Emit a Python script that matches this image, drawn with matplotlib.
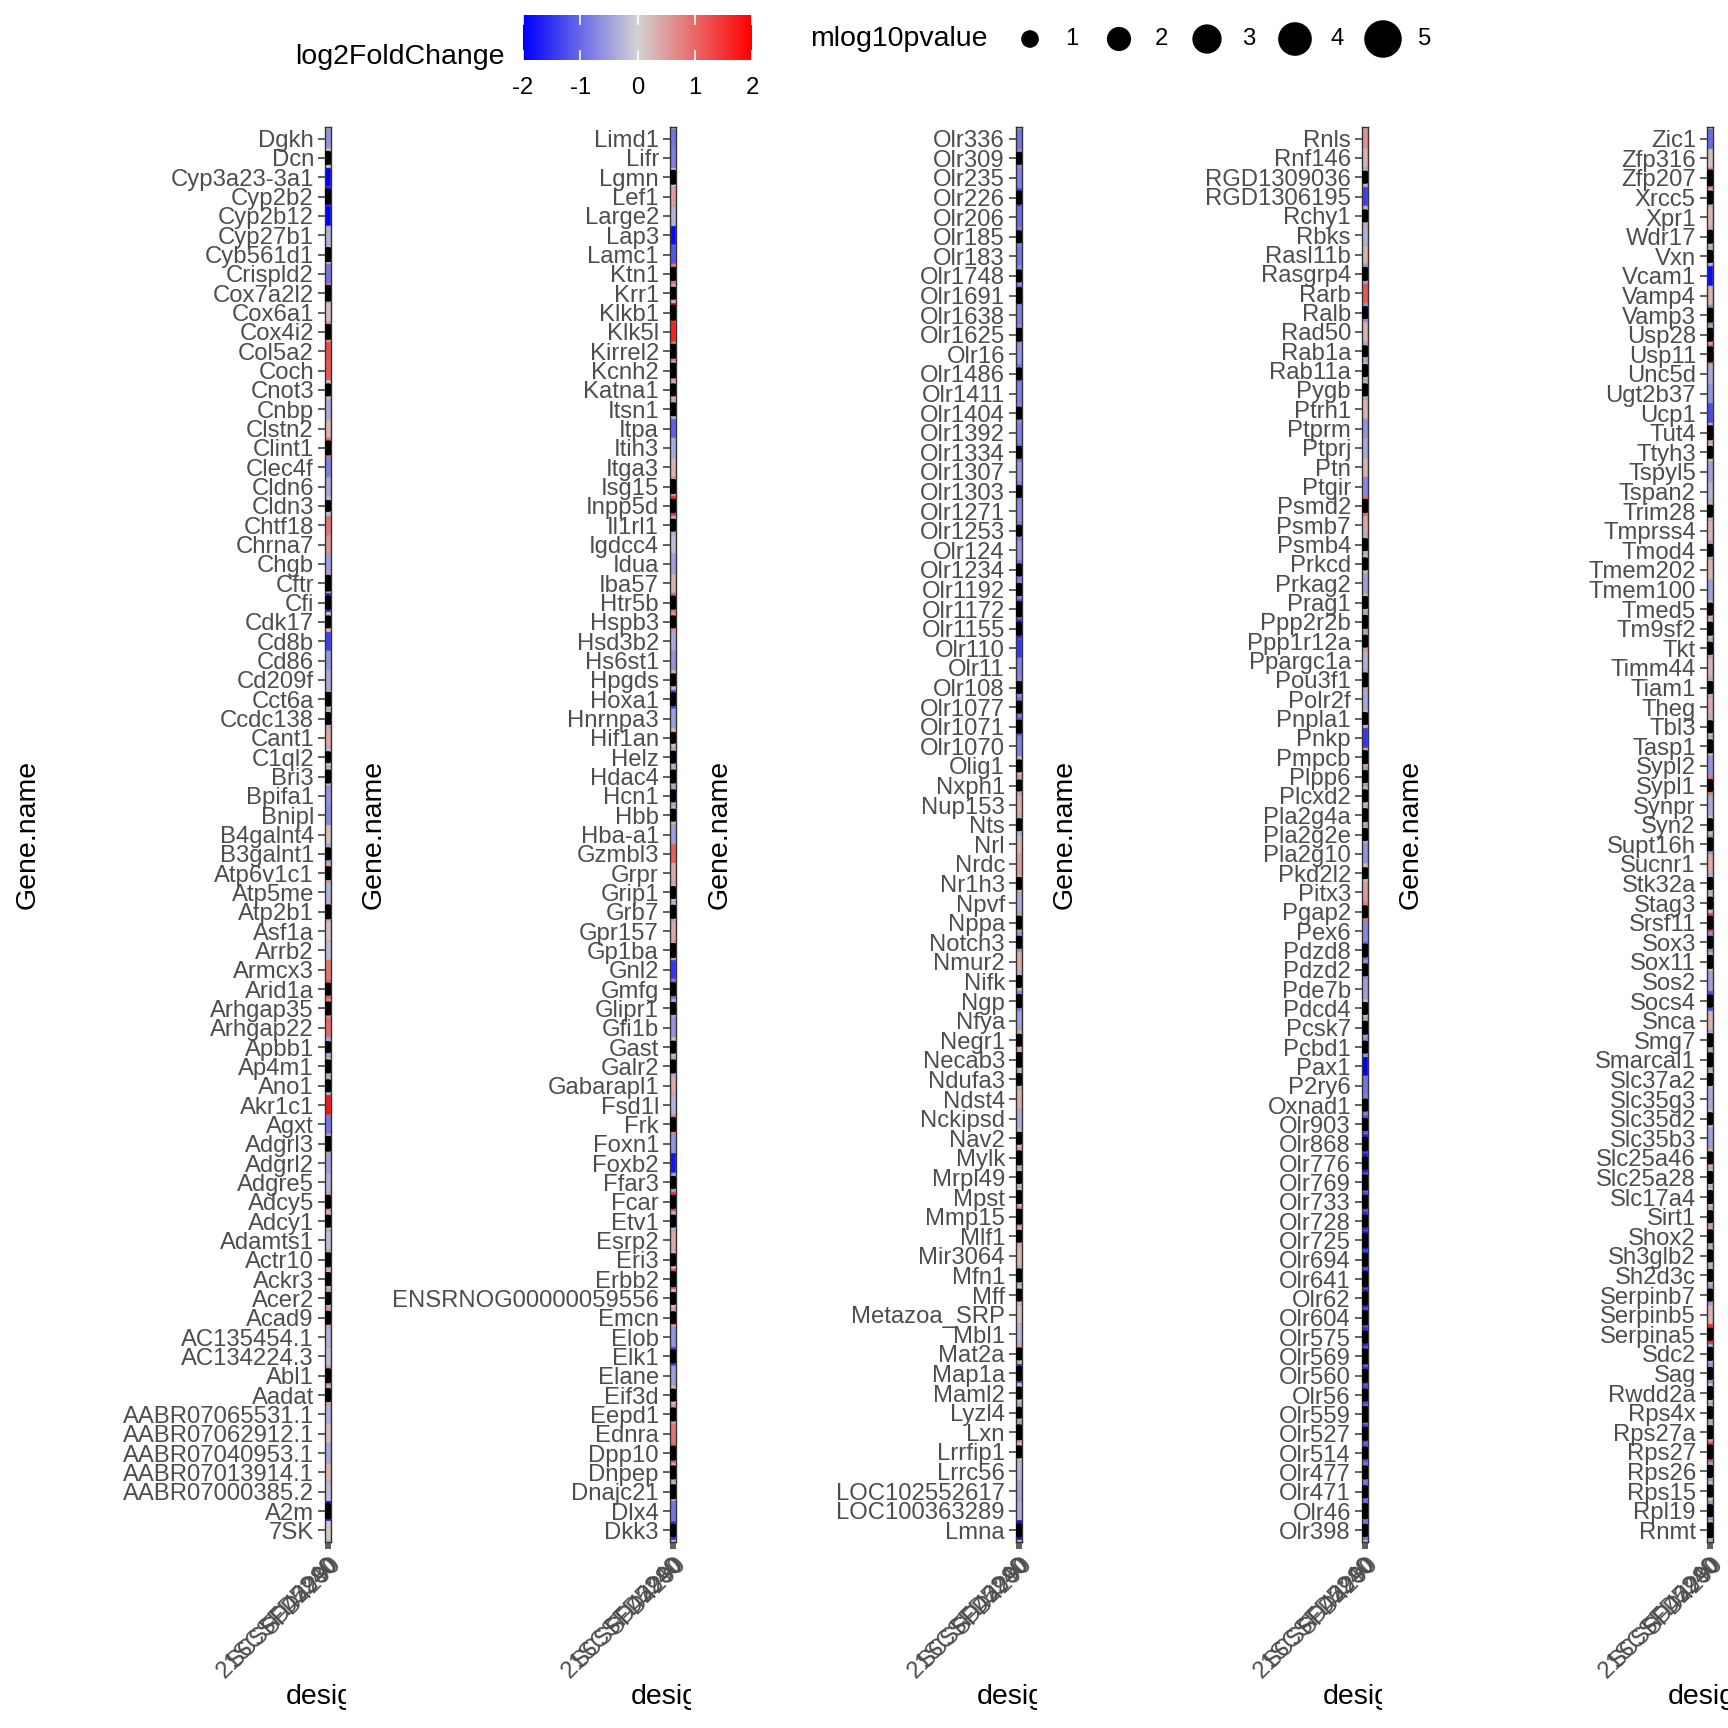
import matplotlib
matplotlib.use("Agg")
import matplotlib.pyplot as plt
import numpy as np
from matplotlib.colors import LinearSegmentedColormap, Normalize
from matplotlib.transforms import Bbox

plt.rcParams['font.family'] = ['Liberation Sans', 'DejaVu Sans']

# ---- data ----------------------------------------------------------------
designs = ["21SCSFD5240", "SCSFD42980", "SFD4290"]

genes_1 = ["Dgkh", "Dcn", "Cyp3a23-3a1", "Cyp2b2", "Cyp2b12", "Cyp27b1", "Cyb561d1", "Crispld2",
           "Cox7a2l2", "Cox6a1", "Cox4i2", "Col5a2", "Coch", "Cnot3", "Cnbp", "Clstn2", "Clint1",
           "Clec4f", "Cldn6", "Cldn3", "Chtf18", "Chrna7", "Chgb", "Cftr", "Cfi", "Cdk17", "Cd8b",
           "Cd86", "Cd209f", "Cct6a", "Ccdc138", "Cant1", "C1ql2", "Bri3", "Bpifa1", "Bnipl",
           "B4galnt4", "B3galnt1", "Atp6v1c1", "Atp5me", "Atp2b1", "Asf1a", "Arrb2", "Armcx3",
           "Arid1a", "Arhgap35", "Arhgap22", "Apbb1", "Ap4m1", "Ano1", "Akr1c1", "Agxt", "Adgrl3",
           "Adgrl2", "Adgre5", "Adcy5", "Adcy1", "Adamts1", "Actr10", "Ackr3", "Acer2", "Acad9",
           "AC135454.1", "AC134224.3", "Abl1", "Aadat", "AABR07065531.1", "AABR07062912.1",
           "AABR07040953.1", "AABR07013914.1", "AABR07000385.2", "A2m", "7SK"]
fc_1 = [-0.6, 0.2, -2.0, -1.9, -2.0, -0.3, 0.3, -0.9, 0.5, 0.2,
        0.6, 1.3, 1.2, 0.3, -0.4, 0.3, 1.0, -0.8, -0.4, -0.2,
        0.9, 0.6, -0.5, 0.4, -1.7, 0.3, -1.4, -0.6, -0.4, 0.2,
        -0.3, 0.4, -0.2, 0.3, -0.6, -0.7, 0.2, -0.4, 0.5, -0.3,
        0.4, 0.2, -0.2, 0.9, 1.1, 0.7, 1.0, -0.4, 0.3, -0.3,
        1.8, -0.9, 0.4, -0.5, -0.3, 0.5, 0.3, -0.2, 0.4, 0.3,
        -0.4, 0.5, -0.3, -0.2, 0.6, 0.4, -0.3, 0.2, -0.4, 0.3,
        -0.2, -1.9, 0.1]
p_1 = [0, 0.6, 0, 0.8, 0, 0, 0.7, 0, 0.9, 0,
       0.8, 0, 0, 0.5, 0, 0, 0.7, 0, 0, 0.4,
       0, 0, 0, 0.9, 0.6, 0.5, 0, 0, 0, 0.7,
       0.5, 0, 0.4, 0.6, 0, 0, 0, 0.5, 0.6, 0,
       0.7, 0, 0, 0, 0.5, 0.6, 0, 0.4, 0.6, 0.5,
       0, 0, 0.8, 0, 0, 0.6, 0.5, 0, 0.7, 0.6,
       0.5, 0.6, 0, 0, 0.7, 0.6, 0, 0, 0, 0,
       0, 0.8, 0]

genes_2 = ["Limd1", "Lifr", "Lgmn", "Lef1", "Large2", "Lap3", "Lamc1", "Ktn1", "Krr1", "Klkb1",
           "Klk5l", "Kirrel2", "Kcnh2", "Katna1", "Itsn1", "Itpa", "Itih3", "Itga3", "Isg15",
           "Inpp5d", "Il1rl1", "Igdcc4", "Idua", "Iba57", "Htr5b", "Hspb3", "Hsd3b2", "Hs6st1",
           "Hpgds", "Hoxa1", "Hnrnpa3", "Hif1an", "Helz", "Hdac4", "Hcn1", "Hbb", "Hba-a1",
           "Gzmbl3", "Grpr", "Grip1", "Grb7", "Gpr157", "Gp1ba", "Gnl2", "Gmfg", "Glipr1", "Gfi1b",
           "Gast", "Galr2", "Gabarapl1", "Fsd1l", "Frk", "Foxn1", "Foxb2", "Ffar3", "Fcar", "Etv1",
           "Esrp2", "Eri3", "Erbb2", "ENSRNOG00000059556", "Emcn", "Elob", "Elk1", "Elane", "Eif3d",
           "Eepd1", "Ednra", "Dpp10", "Dnpep", "Dnajc21", "Dlx4", "Dkk3"]
fc_2 = [-0.9, -0.8, 0.1, 0.5, -0.3, -1.9, -1.2, 0.9, 0.4, 1.9,
        1.7, 0.8, 0.3, 0.4, -0.3, -1.1, -0.4, 0.3, 0.6, 1.6,
        -0.3, -0.2, -0.5, 0.3, 1.0, 0.6, -0.4, -0.6, 0.3, -1.3,
        -0.5, 0.3, -0.3, 0.4, -0.4, 0.3, -0.5, 1.1, 0.4, 0.3,
        -0.3, 0.4, 0.5, -1.5, -0.9, -0.4, -0.6, 0.3, -0.3, 0.4,
        -0.3, 0.8, -0.6, -1.8, -0.5, 1.5, -0.3, 0.4, 0.3, 1.3,
        0.2, 0.5, -0.6, -1.4, -0.5, 0.3, 0.5, 0.9, 1.1, 0.4,
        -0.3, -0.9, -1.6]
p_2 = [0, 0, 0.7, 0, 0, 0, 0, 0.6, 0.5, 0.8,
       0, 0.7, 0.8, 0.5, 0.6, 0, 0, 0, 0.7, 0.6,
       0.5, 0, 0, 0, 0.6, 0.5, 0, 0, 0.5, 0.6,
       0, 0.4, 0.5, 0.6, 0.5, 0.5, 0, 0, 0, 0.5,
       0.6, 0, 0.7, 0, 0.6, 0.5, 0, 0.5, 0.6, 0,
       0, 0.7, 0, 0, 0.5, 0.6, 0.5, 0, 0.5, 0.8,
       0.5, 0.5, 0, 0.6, 0, 0.5, 0.6, 0, 0.7, 0.6,
       0.7, 0, 0.5]

genes_3 = ["Olr336", "Olr309", "Olr235", "Olr226", "Olr206", "Olr185", "Olr183", "Olr1748",
           "Olr1691", "Olr1638", "Olr1625", "Olr16", "Olr1486", "Olr1411", "Olr1404", "Olr1392",
           "Olr1334", "Olr1307", "Olr1303", "Olr1271", "Olr1253", "Olr124", "Olr1234", "Olr1192",
           "Olr1172", "Olr1155", "Olr110", "Olr11", "Olr108", "Olr1077", "Olr1071", "Olr1070",
           "Olig1", "Nxph1", "Nup153", "Nts", "Nrl", "Nrdc", "Nr1h3", "Npvf", "Nppa", "Notch3",
           "Nmur2", "Nifk", "Ngp", "Nfya", "Negr1", "Necab3", "Ndufa3", "Ndst4", "Nckipsd", "Nav2",
           "Mylk", "Mrpl49", "Mpst", "Mmp15", "Mlf1", "Mir3064", "Mfn1", "Mff", "Metazoa_SRP",
           "Mbl1", "Mat2a", "Map1a", "Maml2", "Lyzl4", "Lxn", "Lrrfip1", "Lrrc56", "LOC102552617",
           "LOC100363289", "Lmna"]
fc_3 = [-0.9, -0.7, -0.8, -1.4, -1.0, -0.8, -0.9, -0.7, -1.2, -0.8,
        -0.7, -0.6, -0.9, -0.8, -0.7, -0.8, -0.9, -0.6, -0.8, -0.7,
        -0.8, -0.6, -0.9, -0.8, -1.3, -1.6, -1.5, -0.8, -0.7, -0.9,
        -1.1, -0.8, 0.3, 0.5, 0.4, -0.3, 0.3, 0.5, 0.4, -0.4,
        0.5, -0.6, 0.4, -0.3, -0.8, -0.5, 0.4, 0.3, -0.3, 0.4,
        -0.4, 0.3, 0.5, -0.3, 0.4, 0.8, 0.4, 0.3, -0.3, 0.3,
        0.2, -0.3, 0.4, -1.6, 0.3, -0.4, 0.6, 0.3, -0.3, -0.5,
        -0.4, -1.8]
p_3 = [0, 0.5, 0, 0.6, 0, 0.5, 0, 0.5, 0.9, 0,
       0.6, 0, 0.5, 0, 0.5, 0, 0.5, 0, 0.5, 0,
       0.4, 0, 0.5, 0.5, 0.8, 0.6, 0, 0, 0.5, 0.5,
       0.6, 0, 0.5, 0.4, 0, 0.5, 0, 0, 0.5, 0,
       0.6, 0.5, 0, 0.5, 0.6, 0, 0.5, 0.8, 0.5, 0,
       0, 0.5, 0.7, 0.5, 0.6, 0.8, 0.5, 0, 0.6, 0.5,
       0, 0, 0.5, 0.7, 0.5, 0.4, 0.8, 0.5, 0, 0,
       0, 0.6]

genes_4 = ["Rnls", "Rnf146", "RGD1309036", "RGD1306195", "Rchy1", "Rbks", "Rasl11b", "Rasgrp4",
           "Rarb", "Ralb", "Rad50", "Rab1a", "Rab11a", "Pygb", "Ptrh1", "Ptprm", "Ptprj", "Ptn",
           "Ptgir", "Psmd2", "Psmb7", "Psmb4", "Prkcd", "Prkag2", "Prag1", "Ppp2r2b", "Ppp1r12a",
           "Ppargc1a", "Pou3f1", "Polr2f", "Pnpla1", "Pnkp", "Pmpcb", "Plpp6", "Plcxd2", "Pla2g4a",
           "Pla2g2e", "Pla2g10", "Pkd2l2", "Pitx3", "Pgap2", "Pex6", "Pdzd8", "Pdzd2", "Pde7b",
           "Pdcd4", "Pcsk7", "Pcbd1", "Pax1", "P2ry6", "Oxnad1", "Olr903", "Olr868", "Olr776",
           "Olr769", "Olr733", "Olr728", "Olr725", "Olr694", "Olr641", "Olr62", "Olr604", "Olr575",
           "Olr569", "Olr560", "Olr56", "Olr559", "Olr527", "Olr514", "Olr477", "Olr471", "Olr46",
           "Olr398"]
fc_4 = [0.6, 0.3, -0.3, -1.4, 0.4, -0.3, 0.3, -0.5, 1.2, -0.6,
        0.3, -0.4, 0.4, -0.3, 0.3, -0.6, -0.4, 0.3, -0.7, 1.0,
        0.4, -0.3, 0.3, -0.5, 0.4, -0.4, 0.5, -0.3, 0.4, -0.4,
        0.3, -1.5, 0.4, -0.5, 0.3, 0.4, -0.4, -0.6, 0.3, 0.5,
        0.8, -0.7, -0.9, -0.6, -0.5, 0.3, -0.4, -0.6, -2.0, -0.9,
        -0.8, -1.2, -1.7, -1.8, -1.3, -1.4, -1.6, -1.9, -1.5, -1.7,
        -1.8, -1.4, -1.6, -1.2, -1.5, -1.3, -1.1, -1.4, -1.2, -0.9,
        -1.0, -1.1, -0.9]
p_4 = [0, 0, 0.5, 0, 0.5, 0, 0, 0.6, 0, 0.5,
       0, 0.4, 0.5, 0.5, 0, 0, 0, 0, 0, 0.6,
       0, 0.5, 0.5, 0, 0.5, 0.6, 0.5, 0, 0.7, 0,
       0.5, 0, 0.6, 0.5, 0.5, 0.6, 0.5, 0, 0.4, 0,
       0.5, 0, 0.6, 0.5, 0, 0.5, 0.6, 0.5, 0, 0,
       0.5, 0.5, 0.6, 0.5, 0.8, 0.6, 0.5, 0.7, 0.6, 0.8,
       0.6, 0.7, 0.5, 0.8, 0.6, 0.5, 0.9, 0.6, 0.5, 0.6,
       0.5, 0.8, 0.5]

genes_5 = ["Zic1", "Zfp316", "Zfp207", "Xrcc5", "Xpr1", "Wdr17", "Vxn", "Vcam1", "Vamp4", "Vamp3",
           "Usp28", "Usp11", "Unc5d", "Ugt2b37", "Ucp1", "Tut4", "Ttyh3", "Tspyl5", "Tspan2",
           "Trim28", "Tmprss4", "Tmod4", "Tmem202", "Tmem100", "Tmed5", "Tm9sf2", "Tkt", "Timm44",
           "Tiam1", "Theg", "Tbl3", "Tasp1", "Sypl2", "Sypl1", "Synpr", "Syn2", "Supt16h", "Sucnr1",
           "Stk32a", "Stag3", "Srsf11", "Sox3", "Sox11", "Sos2", "Socs4", "Snca", "Smg7", "Smarcal1",
           "Slc37a2", "Slc35g3", "Slc35d2", "Slc35b3", "Slc25a46", "Slc25a28", "Slc17a4", "Sirt1",
           "Shox2", "Sh3glb2", "Sh2d3c", "Serpinb7", "Serpinb5", "Serpina5", "Sdc2", "Sag", "Rwdd2a",
           "Rps4x", "Rps27a", "Rps27", "Rps26", "Rps15", "Rpl19", "Rnmt"]
fc_5 = [-1.0, 0.2, 0.9, 0.4, 0.3, 0.4, -0.3, -1.9, 0.3, -0.7,
        0.6, 1.2, -0.4, -0.6, -1.3, 0.4, 0.3, -0.5, -0.3, 0.4,
        0.3, -0.4, 0.3, -0.5, 0.4, 0.3, -0.4, 0.3, -0.3, 0.4,
        -0.3, 0.3, -0.6, 0.9, -0.4, 0.3, -0.5, 0.4, -0.3, 0.3,
        1.4, -0.7, 0.4, -0.5, -1.3, 0.3, -0.4, 0.5, -0.3, -0.4,
        0.3, -0.5, 0.4, -0.3, 0.3, -0.4, 0.5, -0.3, 0.4, -0.5,
        0.3, 1.6, -0.4, -0.6, 0.3, -0.4, 0.5, 1.3, -0.5, 0.3,
        -0.6, 0.4]
p_5 = [0, 0, 0.9, 0.6, 0, 0.6, 0.5, 0, 0, 0.7,
       0.6, 0.8, 0, 0, 0, 0.7, 0.5, 0, 0, 0.5,
       0, 0.5, 0, 0, 0.5, 0.6, 0.5, 0, 0.5, 0,
       0.5, 0.6, 0, 0.5, 0, 0.5, 0.6, 0, 0.5, 0.5,
       0.6, 0.5, 0.6, 0, 0.5, 0, 0.6, 0.7, 0.5, 0,
       0.5, 0, 0.5, 0.5, 0.6, 0.5, 0.6, 0.5, 0.5, 0.5,
       0, 0.5, 0.6, 0.5, 0.6, 0.5, 0.6, 0.7, 0.5, 0.5,
       0.5, 0.8]

panels = [(genes_1, fc_1, p_1), (genes_2, fc_2, p_2), (genes_3, fc_3, p_3),
          (genes_4, fc_4, p_4), (genes_5, fc_5, p_5)]

legend_sizes = [1, 2, 3, 4, 5]
cbar_ticks = [-2, -1, 0, 1, 2]

# ---- styling -------------------------------------------------------------
W = H = 1728
cmap = LinearSegmentedColormap.from_list("bgr", ["#0000FF", "#D3D3D3", "#FF0000"])
norm = Normalize(-2, 2)
TICK_COL = "#4D4D4D"
TICK_FS = 17.2
TITLE_FS = 20.5


def size_pt2(v):
    # ggplot-style area scaling, diameter in px -> points^2 (dpi 100)
    d_px = np.sqrt(36 + 274 * np.asarray(v, dtype=float))
    return (d_px * 72 / 100) ** 2


def fx(px):
    return px / W


def fy(py):
    return 1 - py / H


fig = plt.figure(figsize=(17.28, 17.28), dpi=100)

panel_lefts = [325, 670, 1016, 1362, 1707]
panel_w = 6
top, bottom = 127, 1542
col_w = W / 5

for k, (genes, fc, pv) in enumerate(panels):
    n = len(genes)
    ax = fig.add_axes([fx(panel_lefts[k]), fy(bottom), panel_w / W, (bottom - top) / H])
    ax.set_facecolor("#BEBEBE")
    y = np.arange(n)
    ax.barh(y, width=len(designs), left=-0.5, height=1.0,
            color=cmap(norm(np.asarray(fc))), edgecolor="#9a9a9a", linewidth=0.3)
    pv = np.asarray(pv)
    has = pv > 0
    ax.scatter(np.full(has.sum(), 1.0), y[has], s=size_pt2(pv[has]), color="black",
               linewidths=0, zorder=3)
    ax.set_xlim(-0.6, len(designs) - 0.4)
    ax.set_ylim(n - 0.4, -0.6)
    ax.set_yticks(y)
    ax.set_yticklabels(genes, fontsize=TICK_FS, color=TICK_COL)
    ax.set_xticks(range(len(designs)))
    ax.set_xticklabels(designs, fontsize=TICK_FS, color=TICK_COL, rotation=45,
                       ha="right", va="top", rotation_mode="anchor")
    ax.tick_params(axis="both", length=5, width=1.1, color="#333333", pad=3)
    for sp in ax.spines.values():
        sp.set_color("#333333")
        sp.set_linewidth(1.0)

    cx = panel_lefts[k] + panel_w / 2
    fig.text(fx(k * col_w + 28), fy((top + bottom) / 2), "Gene.name", rotation=90,
             ha="center", va="center", fontsize=TITLE_FS, color="black")
    t = fig.text(fx(cx), fy(1697), "design", ha="center", va="center",
                 fontsize=TITLE_FS, color="black")
    t.set_clip_box(Bbox.from_extents(k * col_w, 0, (k + 1) * col_w, H))
    t.set_clip_on(True)

# ---- colour bar legend ---------------------------------------------------
cb_l, cb_r, cb_t, cb_b = 523, 752, 15, 60
cax = fig.add_axes([fx(cb_l), fy(cb_b), (cb_r - cb_l) / W, (cb_b - cb_t) / H])
grad = np.linspace(-2, 2, 300)[None, :]
cax.imshow(grad, cmap=cmap, norm=norm, aspect="auto", extent=(-2, 2, 0, 1))
for tv in cbar_ticks:
    cax.plot([tv, tv], [0, 0.2], color="white", lw=1.2)
    cax.plot([tv, tv], [0.8, 1], color="white", lw=1.2)
cax.set_xlim(-2, 2)
cax.set_ylim(0, 1)
cax.axis("off")
for tv in cbar_ticks:
    fig.text(fx(cb_l + (tv + 2) / 4 * (cb_r - cb_l)), fy(88), f"{tv}", ha="center",
             va="center", fontsize=TICK_FS, color="black")
fig.text(fx(295), fy(57), "log2FoldChange", ha="left", va="center",
         fontsize=TITLE_FS, color="black")

# ---- size legend ---------------------------------------------------------
lax = fig.add_axes([0, 0, 1, 1], facecolor="none")
lax.set_xlim(0, W)
lax.set_ylim(H, 0)
lax.axis("off")
fig.text(fx(810), fy(39), "mlog10pvalue", ha="left", va="center",
         fontsize=TITLE_FS, color="black")
dot_x = [1030, 1119, 1207, 1295, 1383]
lax.scatter(dot_x, [39] * len(legend_sizes), s=size_pt2(legend_sizes), color="black",
            linewidths=0)
for xx, v in zip(dot_x, legend_sizes):
    fig.text(fx(xx + 42), fy(39), str(v), ha="center", va="center",
             fontsize=TICK_FS, color="black")

fig.savefig("out.png", dpi=100, facecolor="white")
